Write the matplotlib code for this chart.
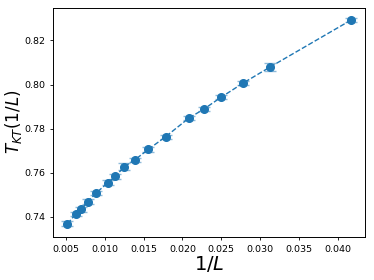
import matplotlib
matplotlib.use("Agg")
import matplotlib.pyplot as plt

# system sizes and fitted transition temperatures
L = [192, 160, 144, 128, 112, 96, 88, 80, 72, 64, 56, 48, 44, 40, 36, 32, 24]
t_kt = [0.7368, 0.7412, 0.7434, 0.7469, 0.7509, 0.7555, 0.7583, 0.7627,
        0.7659, 0.7706, 0.7764, 0.7848, 0.7888, 0.7943, 0.8006, 0.8079, 0.8292]
t_err = [0.0011, 0.0010, 0.0010, 0.0011, 0.0010, 0.0010, 0.0010, 0.0015,
         0.0010, 0.0010, 0.0009, 0.0009, 0.0009, 0.0010, 0.0009, 0.0018, 0.0010]

inv_L = [1.0 / l for l in L]

fig = plt.figure(figsize=(3.74, 2.80), dpi=100)
ax = fig.add_axes([0.1425, 0.1546, 0.976 - 0.1425, 0.973 - 0.1546])

line, caps, bars = ax.errorbar(inv_L, t_kt, yerr=t_err, fmt="o--", color="tab:blue",
                               markersize=5.5, linewidth=1, capsize=4.6, elinewidth=1.2)
for c in caps:
    c.set_alpha(0.5)
for b in bars:
    b.set_alpha(0.5)

ax.set_xticks([0.005, 0.010, 0.015, 0.020, 0.025, 0.030, 0.035, 0.040])
ax.set_yticks([0.74, 0.76, 0.78, 0.80, 0.82])
ax.tick_params(labelsize=6.8, length=2.5, width=0.6)
for s in ax.spines.values():
    s.set_linewidth(0.7)
ax.set_xlabel(r"$1/L$", fontsize=14, labelpad=0)
ax.set_ylabel(r"$T_{KT}(1/L)$", fontsize=12)
ax.yaxis.set_label_coords(-0.093, 0.5)

fig.savefig("out.png", dpi=100)
